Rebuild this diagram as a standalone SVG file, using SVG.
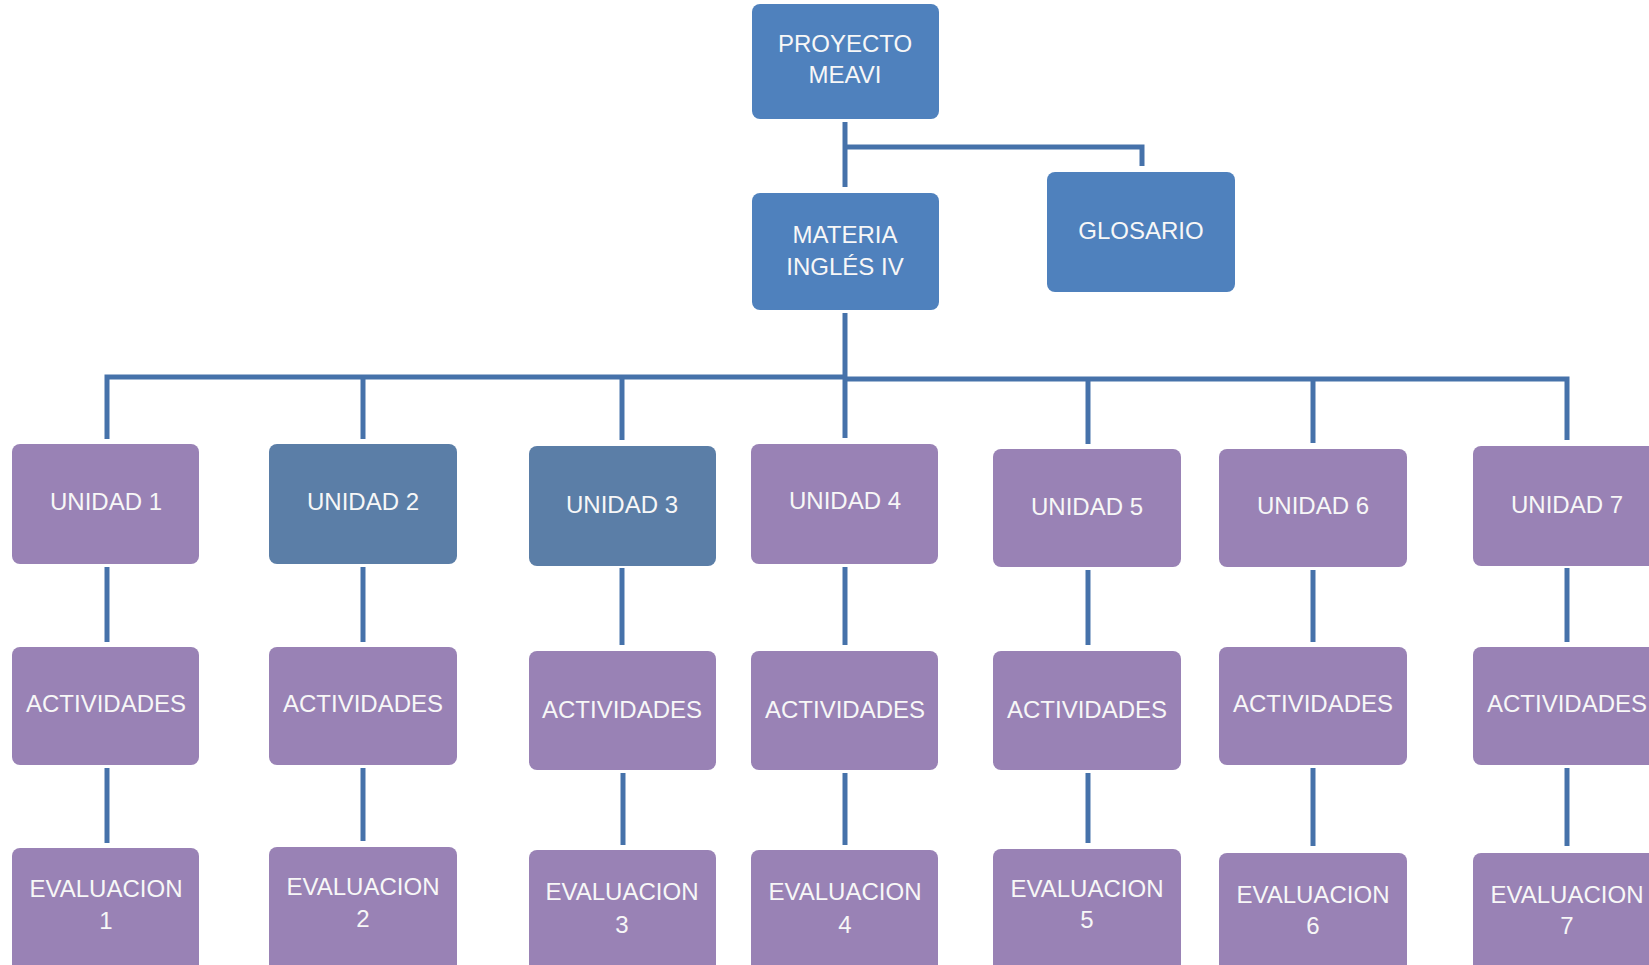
<svg xmlns="http://www.w3.org/2000/svg" width="1649" height="965" viewBox="0 0 1649 965">
  <style>
    .box { stroke: none; }
    .blue { fill: #4f81bd; }
    .steel { fill: #5b7ea7; }
    .purple { fill: #9982b5; }
    .lbl { font-family: "Liberation Sans", Arial, sans-serif; font-size: 24px; fill: #f7f7f7; text-anchor: middle; }
    .wire { fill: none; stroke: #4672aa; stroke-width: 5; stroke-linejoin: miter; stroke-linecap: butt; }
  </style>
  <rect width="1649" height="965" fill="#ffffff"/>

  <!-- connectors -->
  <g id="connectors">
    <path class="wire" d="M845 122 V187"/>
    <path class="wire" d="M845 147 H1142 V166"/>
    <path class="wire" d="M845 313 V438"/>
    <path class="wire" d="M107 439 V377 H845"/>
    <path class="wire" d="M845 379 H1567 V440"/>
    <path class="wire" d="M363 377 V439"/>
    <path class="wire" d="M622 377 V440"/>
    <path class="wire" d="M1088 379 V444"/>
    <path class="wire" d="M1313 379 V443"/>
    <!-- unit to activities -->
    <path class="wire" d="M107 567 V642"/>
    <path class="wire" d="M363 567 V642"/>
    <path class="wire" d="M622 568 V645"/>
    <path class="wire" d="M845 567 V645"/>
    <path class="wire" d="M1088 570 V645"/>
    <path class="wire" d="M1313 570 V642"/>
    <path class="wire" d="M1567 568 V642"/>
    <!-- activities to evaluation -->
    <path class="wire" d="M107 768 V843"/>
    <path class="wire" d="M363 768 V841"/>
    <path class="wire" d="M623 773 V845"/>
    <path class="wire" d="M845 773 V845"/>
    <path class="wire" d="M1088 773 V843"/>
    <path class="wire" d="M1313 768 V846"/>
    <path class="wire" d="M1567 768 V846"/>
  </g>

  <!-- top levels -->
  <g id="proyecto">
    <rect class="box blue" x="752" y="4" width="187" height="115" rx="8"/>
    <text class="lbl" x="845" y="52">PROYECTO</text>
    <text class="lbl" x="845" y="83">MEAVI</text>
  </g>
  <g id="materia">
    <rect class="box blue" x="752" y="193" width="187" height="117" rx="8"/>
    <text class="lbl" x="845" y="243">MATERIA</text>
    <text class="lbl" x="845" y="275">INGLÉS IV</text>
  </g>
  <g id="glosario">
    <rect class="box blue" x="1047" y="172" width="188" height="120" rx="8"/>
    <text class="lbl" x="1141" y="239">GLOSARIO</text>
  </g>

  <!-- units -->
  <g id="unidad1">
    <rect class="box purple" x="12" y="444" width="187" height="120" rx="8"/>
    <text class="lbl" x="106" y="510">UNIDAD 1</text>
  </g>
  <g id="unidad2">
    <rect class="box steel" x="269" y="444" width="188" height="120" rx="8"/>
    <text class="lbl" x="363" y="510">UNIDAD 2</text>
  </g>
  <g id="unidad3">
    <rect class="box steel" x="529" y="446" width="187" height="120" rx="8"/>
    <text class="lbl" x="622" y="513">UNIDAD 3</text>
  </g>
  <g id="unidad4">
    <rect class="box purple" x="751" y="444" width="187" height="120" rx="8"/>
    <text class="lbl" x="845" y="509">UNIDAD 4</text>
  </g>
  <g id="unidad5">
    <rect class="box purple" x="993" y="449" width="188" height="118" rx="8"/>
    <text class="lbl" x="1087" y="515">UNIDAD 5</text>
  </g>
  <g id="unidad6">
    <rect class="box purple" x="1219" y="449" width="188" height="118" rx="8"/>
    <text class="lbl" x="1313" y="514">UNIDAD 6</text>
  </g>
  <g id="unidad7">
    <rect class="box purple" x="1473" y="446" width="188" height="120" rx="8"/>
    <text class="lbl" x="1567" y="513">UNIDAD 7</text>
  </g>

  <!-- activities -->
  <g id="actividades1">
    <rect class="box purple" x="12" y="647" width="187" height="118" rx="8"/>
    <text class="lbl" x="106" y="712">ACTIVIDADES</text>
  </g>
  <g id="actividades2">
    <rect class="box purple" x="269" y="647" width="188" height="118" rx="8"/>
    <text class="lbl" x="363" y="712">ACTIVIDADES</text>
  </g>
  <g id="actividades3">
    <rect class="box purple" x="529" y="651" width="187" height="119" rx="8"/>
    <text class="lbl" x="622" y="718">ACTIVIDADES</text>
  </g>
  <g id="actividades4">
    <rect class="box purple" x="751" y="651" width="187" height="119" rx="8"/>
    <text class="lbl" x="845" y="718">ACTIVIDADES</text>
  </g>
  <g id="actividades5">
    <rect class="box purple" x="993" y="651" width="188" height="119" rx="8"/>
    <text class="lbl" x="1087" y="718">ACTIVIDADES</text>
  </g>
  <g id="actividades6">
    <rect class="box purple" x="1219" y="647" width="188" height="118" rx="8"/>
    <text class="lbl" x="1313" y="712">ACTIVIDADES</text>
  </g>
  <g id="actividades7">
    <rect class="box purple" x="1473" y="647" width="188" height="118" rx="8"/>
    <text class="lbl" x="1567" y="712">ACTIVIDADES</text>
  </g>

  <!-- evaluations -->
  <g id="evaluacion1">
    <rect class="box purple" x="12" y="848" width="187" height="130" rx="8"/>
    <text class="lbl" x="106" y="897">EVALUACION</text>
    <text class="lbl" x="106" y="929">1</text>
  </g>
  <g id="evaluacion2">
    <rect class="box purple" x="269" y="847" width="188" height="130" rx="8"/>
    <text class="lbl" x="363" y="895">EVALUACION</text>
    <text class="lbl" x="363" y="927">2</text>
  </g>
  <g id="evaluacion3">
    <rect class="box purple" x="529" y="850" width="187" height="130" rx="8"/>
    <text class="lbl" x="622" y="900">EVALUACION</text>
    <text class="lbl" x="622" y="933">3</text>
  </g>
  <g id="evaluacion4">
    <rect class="box purple" x="751" y="850" width="187" height="130" rx="8"/>
    <text class="lbl" x="845" y="900">EVALUACION</text>
    <text class="lbl" x="845" y="933">4</text>
  </g>
  <g id="evaluacion5">
    <rect class="box purple" x="993" y="849" width="188" height="130" rx="8"/>
    <text class="lbl" x="1087" y="897">EVALUACION</text>
    <text class="lbl" x="1087" y="928">5</text>
  </g>
  <g id="evaluacion6">
    <rect class="box purple" x="1219" y="853" width="188" height="130" rx="8"/>
    <text class="lbl" x="1313" y="903">EVALUACION</text>
    <text class="lbl" x="1313" y="934">6</text>
  </g>
  <g id="evaluacion7">
    <rect class="box purple" x="1473" y="853" width="188" height="130" rx="8"/>
    <text class="lbl" x="1567" y="903">EVALUACION</text>
    <text class="lbl" x="1567" y="934">7</text>
  </g>
</svg>
